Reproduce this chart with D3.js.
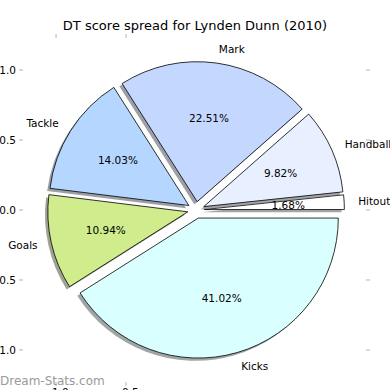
<!DOCTYPE html>
<html>
<head>
<meta charset="utf-8">
<script src="https://cdn.jsdelivr.net/npm/d3@7"></script>
<style>
  html, body { margin: 0; padding: 0; background: #fff; }
  svg { display: block; font-family: "DejaVu Sans", sans-serif; }
</style>
</head>
<body>
<svg id="chart" width="390" height="390"></svg>
<script>
// slices, counter-clockwise from 3 o'clock (matplotlib order)
const labels = ["Hitout", "Handball", "Mark", "Tackle", "Goals", "Kicks"];
const values = [1.68, 9.82, 22.51, 14.03, 10.94, 41.02];
const colours = ["#ffffff", "#e8f0ff", "#c4d8ff", "#b4d6ff", "#d0ec8c", "#d9ffff"];
const explode = [0.06, 0.06, 0.06, 0.06, 0.06, 0.06];

const yTicks = [1.0, 0.5, 0.0, -0.5, -1.0];
const xTicks = [-1.0, -0.5];

const svg = d3.select("#chart");

const x = d3.scaleLinear().domain([-1.243, 1.243]).range([22, 370]);
const y = d3.scaleLinear().domain([-1.243, 1.243]).range([384, 36]);
const R = x(1) - x(0);

// d3 angles run clockwise from 12 o'clock, so start at 3 o'clock and go backwards
const pie = d3.pie().sort(null).startAngle(Math.PI / 2).endAngle(Math.PI / 2 - 2 * Math.PI);
const arcs = pie(values);
const arc = d3.arc().innerRadius(0).outerRadius(R);

const fmt = v => v.toFixed(2).replace("-", "\u2212");

// ticks
const tickCol = "#b4b4b4";
yTicks.forEach(v => {
  svg.append("line").attr("x1", 19).attr("x2", 23).attr("y1", y(v)).attr("y2", y(v))
    .attr("stroke", tickCol).attr("stroke-width", 1);
  svg.append("line").attr("x1", 366).attr("x2", 370).attr("y1", y(v)).attr("y2", y(v))
    .attr("stroke", tickCol).attr("stroke-width", 1);
  svg.append("text").attr("x", 16).attr("y", y(v)).attr("dy", "0.35em")
    .attr("text-anchor", "end").attr("font-size", 10.5).text(fmt(v).replace(/(\.\d)0$/, "$1"));
});
xTicks.forEach(v => {
  svg.append("line").attr("x1", x(v)).attr("x2", x(v)).attr("y1", 34).attr("y2", 38)
    .attr("stroke", tickCol).attr("stroke-width", 1);
  svg.append("line").attr("x1", x(v)).attr("x2", x(v)).attr("y1", 382).attr("y2", 386)
    .attr("stroke", tickCol).attr("stroke-width", 1);
  svg.append("text").attr("x", x(v)).attr("y", 388).attr("dy", "0.8em")
    .attr("text-anchor", "middle").attr("font-size", 10.5).text(fmt(v).replace(/(\.\d)0$/, "$1"));
});

const offset = (d, i, k) => {
  const a = (d.startAngle + d.endAngle) / 2;
  return [x(0) + Math.sin(a) * k * R, y(0) - Math.cos(a) * k * R];
};

const g = svg.append("g");

// shadows first (drawn under every wedge)
arcs.forEach((d, i) => {
  const [cx, cy] = offset(d, i, explode[i]);
  const c = d3.rgb(colours[i]);
  g.append("path")
    .attr("d", arc(d))
    .attr("transform", `translate(${cx - 2.8},${cy + 2.8})`)
    .attr("fill", d3.rgb(c.r * 0.3, c.g * 0.3, c.b * 0.3))
    .attr("fill-opacity", 0.5);
});

arcs.forEach((d, i) => {
  const [cx, cy] = offset(d, i, explode[i]);
  g.append("path")
    .attr("d", arc(d))
    .attr("transform", `translate(${cx},${cy})`)
    .attr("fill", colours[i])
    .attr("stroke", "#000")
    .attr("stroke-width", 0.8)
    .attr("stroke-linejoin", "miter");
});

// labels
arcs.forEach((d, i) => {
  const a = (d.startAngle + d.endAngle) / 2;
  const [lx, ly] = offset(d, i, explode[i] + 1.1);
  svg.append("text")
    .attr("x", lx).attr("y", ly).attr("dy", "0.35em")
    .attr("text-anchor", Math.sin(a) > 0 ? "start" : "end")
    .attr("font-size", 10.5)
    .text(labels[i]);
  const [px, py] = offset(d, i, explode[i] + 0.6);
  svg.append("text")
    .attr("x", px).attr("y", py).attr("dy", "0.35em")
    .attr("text-anchor", "middle")
    .attr("font-size", 10.5)
    .text(values[i].toFixed(2) + "%");
});

svg.append("text")
  .attr("x", 195).attr("y", 30)
  .attr("text-anchor", "middle").attr("font-size", 13)
  .text("DT score spread for Lynden Dunn (2010)");

svg.append("text")
  .attr("x", 0).attr("y", 385)
  .attr("font-size", 12).attr("fill", "#9a9a9a")
  .attr("font-family", "'DejaVu Sans', sans-serif")
  .text("Dream-Stats.com");
</script>
</body>
</html>
